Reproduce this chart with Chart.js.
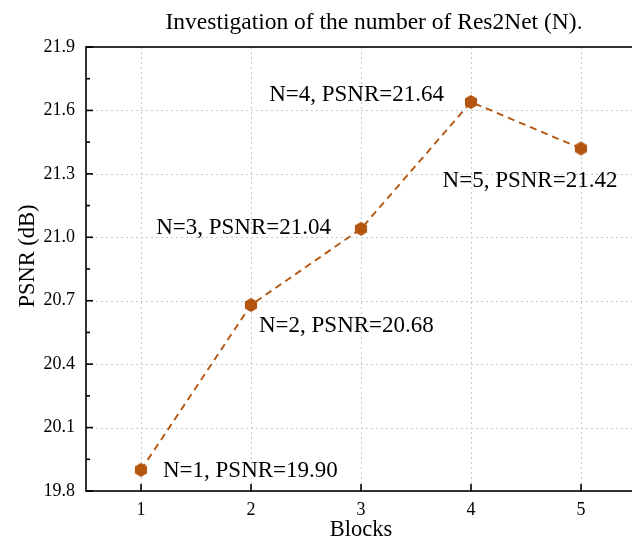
<!DOCTYPE html>
<html>
<head>
<meta charset="utf-8">
<script src="https://cdn.jsdelivr.net/npm/chart.js@4"></script>
<style>
html,body{margin:0;padding:0;background:#fff;overflow:hidden;}
#wrap{position:relative;width:640px;height:541px;}
canvas{display:block;}
</style>
</head>
<body>
<div id="wrap"><canvas id="c" width="640" height="541" style="width:640px;height:541px"></canvas></div>
<script>
// ---- data ----
const blocks = [1, 2, 3, 4, 5];
const psnr = [19.90, 20.68, 21.04, 21.64, 21.42];
const pointLabels = ['N=1, PSNR=19.90', 'N=2, PSNR=20.68', 'N=3, PSNR=21.04', 'N=4, PSNR=21.64', 'N=5, PSNR=21.42'];
const yTicks = [19.8, 20.1, 20.4, 20.7, 21.0, 21.3, 21.6, 21.9];
const yMinorTicks = [19.95, 20.25, 20.55, 20.85, 21.15, 21.45, 21.75];
const xTicks = [1, 2, 3, 4, 5];

// ---- style ----
const COLOR = '#b4560f';
const FONT = '"Liberation Serif", "Times New Roman", serif';
const PLOT_RIGHT = 636;
// label placement: [dx, dy, align]
const labelPlace = [[22, 1, 'left'], [8, 21, 'left'], [-30, -1, 'right'], [-27, -7, 'right'], [-51, 32, 'center']];

function hexagon(r) {
  const c = document.createElement('canvas');
  const s = Math.ceil(r * 2 + 2);
  c.width = s; c.height = s;
  const g = c.getContext('2d');
  g.fillStyle = COLOR;
  g.beginPath();
  for (let i = 0; i < 6; i++) {
    const a = Math.PI / 6 + i * Math.PI / 3;
    const x = s / 2 + r * Math.cos(a), y = s / 2 + r * Math.sin(a);
    if (i === 0) g.moveTo(x, y); else g.lineTo(x, y);
  }
  g.closePath();
  g.fill();
  return c;
}
const hex = hexagon(7);

const decor = {
  id: 'decor',
  afterLayout(chart) {
    // the plot frame extends past the right edge of the visible window, as in the reference
    const xs = chart.scales.x, a = chart.chartArea;
    xs.right = PLOT_RIGHT;
    xs.width = PLOT_RIGHT - xs.left;
    xs.configure();
    a.right = PLOT_RIGHT;
    a.width = PLOT_RIGHT - a.left;
  },
  beforeDatasetsDraw(chart) {
    const ctx = chart.ctx, a = chart.chartArea, xs = chart.scales.x, ys = chart.scales.y;
    ctx.save();
    ctx.strokeStyle = '#c8c8c8';
    ctx.lineWidth = 1;
    ctx.setLineDash([2, 3]);
    xTicks.forEach(v => {
      const x = Math.round(xs.getPixelForValue(v)) + 0.5;
      ctx.beginPath(); ctx.moveTo(x, a.top); ctx.lineTo(x, a.bottom); ctx.stroke();
    });
    yTicks.slice(1, -1).forEach(v => {
      const y = Math.round(ys.getPixelForValue(v)) + 0.5;
      ctx.beginPath(); ctx.moveTo(a.left, y); ctx.lineTo(a.right, y); ctx.stroke();
    });
    ctx.setLineDash([]);
    // frame
    ctx.strokeStyle = '#000';
    ctx.lineWidth = 1.6;
    ctx.strokeRect(a.left, a.top, a.right - a.left, a.bottom - a.top);
    // ticks
    yTicks.forEach(v => {
      const y = ys.getPixelForValue(v);
      ctx.beginPath(); ctx.moveTo(a.left, y); ctx.lineTo(a.left + 7, y); ctx.stroke();
    });
    yMinorTicks.forEach(v => {
      const y = ys.getPixelForValue(v);
      ctx.beginPath(); ctx.moveTo(a.left, y); ctx.lineTo(a.left + 4, y); ctx.stroke();
    });
    xTicks.forEach(v => {
      const x = xs.getPixelForValue(v);
      ctx.beginPath(); ctx.moveTo(x, a.bottom); ctx.lineTo(x, a.bottom - 7); ctx.stroke();
    });
    ctx.restore();
  },
  afterDatasetsDraw(chart) {
    const ctx = chart.ctx, xs = chart.scales.x, ys = chart.scales.y;
    ctx.save();
    ctx.fillStyle = '#000';
    ctx.textBaseline = 'middle';
    ctx.font = '23px ' + FONT;
    pointLabels.forEach((t, i) => {
      const p = labelPlace[i];
      ctx.textAlign = p[2];
      ctx.fillText(t, xs.getPixelForValue(blocks[i]) + p[0], ys.getPixelForValue(psnr[i]) + p[1]);
    });
    // title
    ctx.font = '23.5px ' + FONT;
    ctx.textAlign = 'center';
    ctx.fillText('Investigation of the number of Res2Net (N).', 374, 23);
    // axis titles
    ctx.font = '22.5px ' + FONT;
    ctx.fillText('Blocks', 361, 530);
    ctx.translate(28, 256);
    ctx.rotate(-Math.PI / 2);
    ctx.fillText('PSNR (dB)', 0, 0);
    ctx.restore();
  }
};

new Chart(document.getElementById('c'), {
  type: 'line',
  plugins: [decor],
  data: {
    datasets: [{
      data: blocks.map((b, i) => ({ x: b, y: psnr[i] })),
      borderColor: COLOR,
      backgroundColor: COLOR,
      borderWidth: 1.9,
      borderDash: [7, 5],
      pointStyle: hex,
      pointRadius: 7,
      tension: 0,
      fill: false
    }]
  },
  options: {
    responsive: false,
    maintainAspectRatio: false,
    animation: false,
    devicePixelRatio: 1,
    layout: { padding: { top: 47, right: 0, left: 0, bottom: 0 } },
    plugins: { legend: { display: false }, title: { display: false }, tooltip: { enabled: false } },
    scales: {
      x: {
        type: 'linear', min: 0.5, max: 5.5,
        afterBuildTicks: s => { s.ticks = xTicks.map(v => ({ value: v })); },
        afterFit: s => { s.height = 50; s.paddingLeft = 0; s.paddingRight = 0; },
        grid: { display: false, drawTicks: false },
        border: { display: false },
        ticks: { autoSkip: false, color: '#000', font: { family: FONT, size: 18 }, padding: 8, maxRotation: 0, callback: v => String(v) }
      },
      y: {
        type: 'linear', min: 19.8, max: 21.9,
        afterBuildTicks: s => { s.ticks = yTicks.map(v => ({ value: v })); },
        afterFit: s => { s.width = 86; s.paddingTop = 0; s.paddingBottom = 0; },
        grid: { display: false, drawTicks: false },
        border: { display: false },
        ticks: { autoSkip: false, color: '#000', font: { family: FONT, size: 18 }, padding: 11, callback: v => Number(v).toFixed(1) }
      }
    }
  }
});
</script>
</body>
</html>
